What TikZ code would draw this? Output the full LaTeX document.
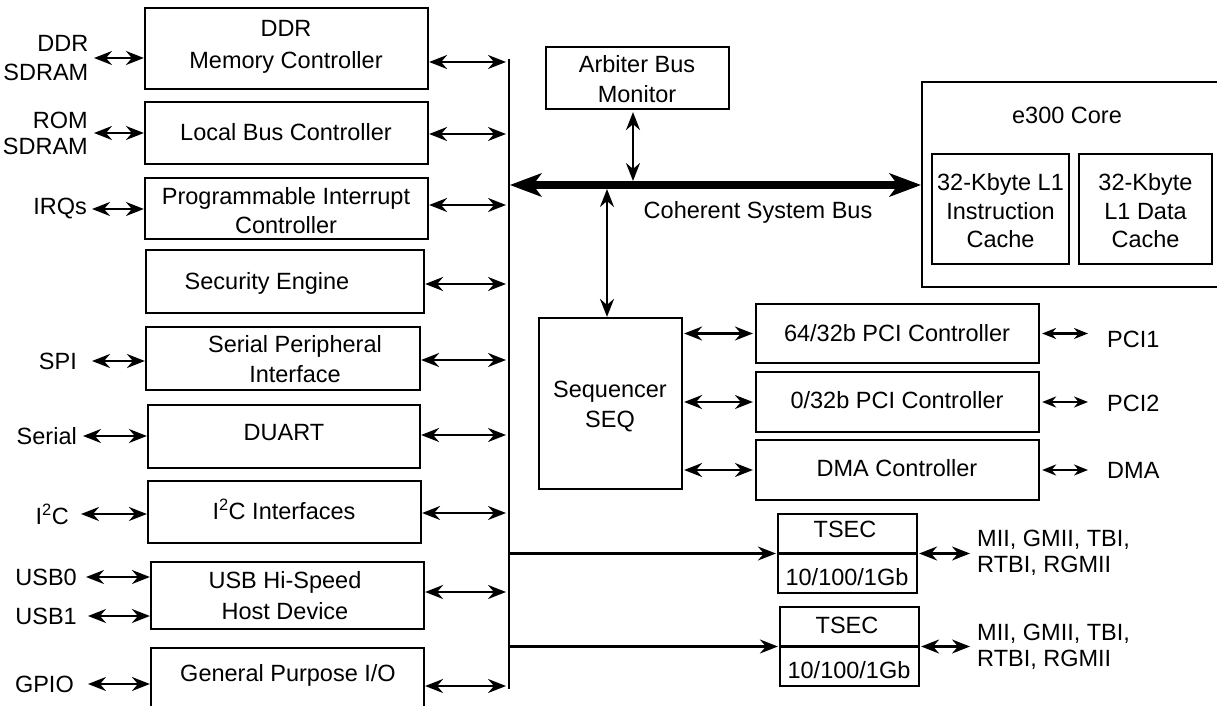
\documentclass[tikz,border=0pt]{standalone}
\usepackage{fontspec}
\setmainfont{Liberation Sans}
\usetikzlibrary{arrows.meta,fit,calc}
\begin{document}
\begin{tikzpicture}[x=1pt,y=-1pt,
  blk/.style={draw, line width=2.2pt, inner sep=0pt},
  txt/.style={font=\fontsize{23.5}{29}\selectfont, inner sep=0pt, align=center},
  lead/.style={font=\fontsize{23.5}{#1}\selectfont},
  dbl/.style={line width=2.3pt, <->, >={Stealth[length=18pt,width=14pt,inset=6pt]}},
  dbls/.style={line width=2.3pt, <->, >={Stealth[length=14pt,width=11pt,inset=4.5pt]}},
  one/.style={line width=2.3pt, ->, >={Stealth[length=18pt,width=14pt,inset=6pt]}},
  bigbus/.style={line width=8pt, <->, >={Stealth[length=32pt,width=24pt,inset=9pt,line width=1pt]}},
  busline/.style={line width=2.3pt}
]
\useasboundingbox (0,0) rectangle (1217,706);
\clip (0,0) rectangle (1217,706);

% ---------- left column boxes ----------
\node[blk, fit={(145,8) (428,89)}] (ddr) {};
\node[blk, fit={(145,102) (428,164)}] (lbc) {};
\node[blk, fit={(145,178) (428,239)}] (pic) {};
\node[blk, fit={(146,250) (424,313)}] (sec) {};
\node[blk, fit={(146,327) (420,390)}] (spi) {};
\node[blk, fit={(148,405) (420,468)}] (duart) {};
\node[blk, fit={(148,481) (421,543)}] (i2c) {};
\node[blk, fit={(151,562) (424,629)}] (usb) {};
\node[blk, fit={(151,648) (424,740)}] (gpio) {};

\node[txt, lead=32] (ddrt) at (286,47) {DDR\\Memory Controller};
\node[txt] (lbct) at (286,132) {Local Bus Controller};
\node[txt] (pict) at (286,211) {Programmable Interrupt\\Controller};
\node[txt] (sect) at (267,283) {Security Engine};
\node[txt, lead=30.5] (spit) at (295,359) {Serial Peripheral\\Interface};
\node[txt] (duartt) at (284,433) {DUART};
\node[txt] (i2ct) at (284,509) {I\textsuperscript{2}C Interfaces};
\node[txt, lead=31] (usbt) at (285,596) {USB Hi-Speed\\Host Device};
\node[txt] (gpiot) at (288,675) {General Purpose I/O};

% ---------- left labels ----------
\node[txt, lead=29.5, align=right, anchor=east] (ddrl) at (88.5,58) {DDR\\SDRAM};
\node[txt, lead=26, align=right, anchor=east] (roml) at (88,133) {ROM\\SDRAM};
\node[txt, anchor=east] (irql) at (87,209) {IRQs};
\node[txt, anchor=east] (spil) at (77,361) {SPI};
\node[txt, anchor=east] (serl) at (77,436) {Serial};
\node[txt, anchor=east] (i2cl) at (69,514) {I\textsuperscript{2}C};
\node[txt, anchor=east] (usb0l) at (77,577) {USB0};
\node[txt, anchor=east] (usb1l) at (77,616) {USB1};
\node[txt, anchor=east] (gpiol) at (74,684) {GPIO};

\draw[dbl] ($(ddrl.east)+(5.5,0)$) -- (ddr.west |- ddrl.east);
\draw[dbl] ($(roml.east)+(6,0)$) -- (lbc.west |- roml.east);
\draw[dbl] ($(irql.east)+(5,0)$) -- (pic.west |- irql.east);
\draw[dbl] ($(spil.east)+(15,0)$) -- (spi.west |- spil.east);
\draw[dbl] ($(serl.east)+(6,0)$) -- (duart.west |- serl.east);
\draw[dbl] ($(i2cl.east)+(12,0)$) -- (i2c.west |- i2cl.east);
\draw[dbl] ($(usb0l.east)+(9,0)$) -- (usb.west |- usb0l.east);
\draw[dbl] ($(usb1l.east)+(11,0)$) -- (usb.west |- usb1l.east);
\draw[dbl] ($(gpiol.east)+(14,0)$) -- (gpio.west |- gpiol.east);

% ---------- vertical bus ----------
\coordinate (bt) at (509,59);
\coordinate (bb) at (509,689);
\draw[busline] (bt) -- (bb);

\draw[dbl, shorten >=3pt] (ddr.east |- 0,62) -- (bt |- 0,62);
\draw[dbl, shorten >=3pt] (lbc.east |- 0,134) -- (bt |- 0,134);
\draw[dbl, shorten >=3pt] (pic.east |- 0,205) -- (bt |- 0,205);
\draw[dbl, shorten >=3pt] (sec.east |- 0,284) -- (bt |- 0,284);
\draw[dbl, shorten >=3pt] (spi.east |- 0,360) -- (bt |- 0,360);
\draw[dbl, shorten >=3pt] (duart.east |- 0,435) -- (bt |- 0,435);
\draw[dbl, shorten >=3pt] (i2c.east |- 0,513) -- (bt |- 0,513);
\draw[dbl, shorten >=3pt] (usb.east |- 0,592) -- (bt |- 0,592);
\draw[dbl, shorten >=3pt] (gpio.east |- 0,686) -- (bt |- 0,686);

% ---------- e300 core ----------
\node[blk, fit={(922,82) (1240,287)}] (core) {};
\node[txt] (coret) at (1067,115) {e300 Core};
\node[blk, fit={(932,154) (1069,264)}] (ic) {};
\node[blk, fit={(1079,154) (1212,264)}] (dc) {};
\node[txt, lead=28.5] (ict) at (1000.5,211) {32-Kbyte L1\\Instruction\\Cache};
\node[txt, lead=28.5] (dct) at (1145.5,211) {32-Kbyte\\L1 Data\\Cache};

% ---------- coherent system bus ----------
\coordinate (cbl) at (510,185);
\draw[bigbus] (cbl) -- (core.west |- cbl);
\node[txt] (cbt) at (758,212) {Coherent System Bus};

\node[blk, fit={(546,47) (729,109)}] (arb) {};
\node[txt, lead=30] (arbt) at (637,79) {Arbiter Bus\\Monitor};
\draw[dbl, shorten <=2pt, shorten >=4pt] ($(arb.south)+(-4.5,0)$) -- ($(arb.south |- cbl)+(-4.5,0)$);

% ---------- sequencer & PCI ----------
\node[blk, fit={(539,318) (682,489)}] (seq) {};
\node[txt, lead=30] (seqt) at (610,407) {Sequencer\\SEQ};
\draw[dbl, shorten >=4pt] ($(seq.north)+(-3.5,0)$) -- ($(seq.north |- cbl)+(-3.5,0)$);

\node[blk, fit={(756,304) (1039,363)}] (pci1) {};
\node[blk, fit={(756,372) (1039,432)}] (pci2) {};
\node[blk, fit={(756,440) (1039,500)}] (dma) {};
\node[txt] (pci1t) at (897,333) {64/32b PCI Controller};
\node[txt] (pci2t) at (897,400) {0/32b PCI Controller};
\node[txt] (dmat) at (897,468) {DMA Controller};

\draw[dbl, shorten <=1pt, shorten >=2pt] (seq.east |- pci1.west) -- (pci1.west);
\draw[dbl, shorten <=1pt, shorten >=2pt] (seq.east |- pci2.west) -- (pci2.west);
\draw[dbl, shorten <=1pt, shorten >=2pt] (seq.east |- dma.west) -- (dma.west);

\node[txt, anchor=west] (pcil1) at (1107,339) {PCI1};
\node[txt, anchor=west] (pcil2) at (1107,403) {PCI2};
\node[txt, anchor=west] (dmal) at (1107,470) {DMA};
\draw[dbls, shorten <=2pt, shorten >=19pt] (pci1.east) -- (pci1.east -| pcil1.west);
\draw[dbls, shorten <=2pt, shorten >=19pt] (pci2.east) -- (pci2.east -| pcil2.west);
\draw[dbls, shorten <=2pt, shorten >=19pt] (dma.east) -- (dma.east -| dmal.west);

% ---------- TSEC ----------
\node[blk, fit={(778,514) (917,593)}] (tsec1) {};
\draw[busline] (tsec1.west) -- (tsec1.east);
\node[txt] (tsec1a) at (845,529) {TSEC};
\node[txt] (tsec1b) at (847,577) {10/100/1Gb};
\node[blk, fit={(780,607) (919,686)}] (tsec2) {};
\draw[busline] (tsec2.west) -- (tsec2.east);
\node[txt] (tsec2a) at (847,625) {TSEC};
\node[txt] (tsec2b) at (849,670) {10/100/1Gb};

\draw[one, shorten >=1pt] (bt |- tsec1.west) -- (tsec1.west);
\draw[one, shorten >=1pt] (bt |- tsec2.west) -- (tsec2.west);

\node[txt, lead=26, align=left, anchor=west] (mii1) at (977,553) {MII, GMII, TBI,\\RTBI, RGMII};
\node[txt, lead=26, align=left, anchor=west] (mii2) at (977,646.5) {MII, GMII, TBI,\\RTBI, RGMII};
\draw[dbl, shorten <=1pt, shorten >=7pt] (tsec1.east) -- (tsec1.east -| mii1.west);
\draw[dbl, shorten <=1pt, shorten >=7pt] (tsec2.east) -- (tsec2.east -| mii2.west);
\end{tikzpicture}
\end{document}
